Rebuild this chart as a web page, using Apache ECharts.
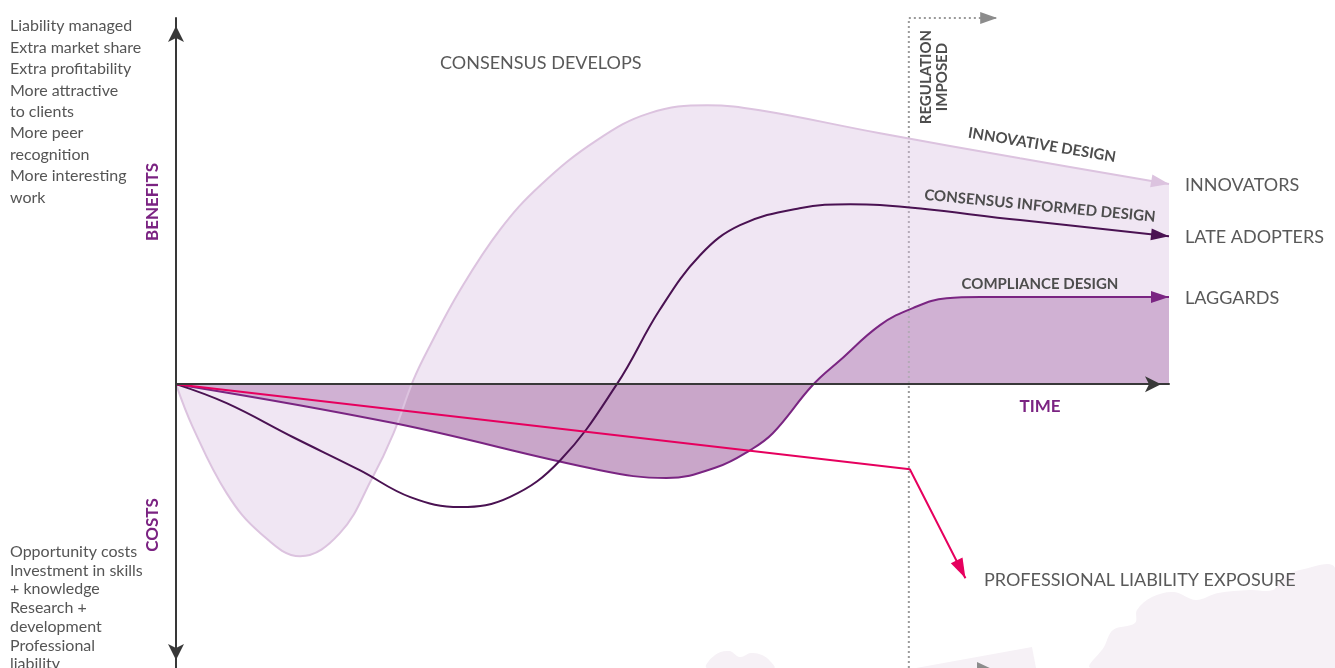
<!DOCTYPE html>
<html>
<head>
<meta charset="utf-8">
<script src="https://cdn.jsdelivr.net/npm/echarts@6/dist/echarts.min.js"></script>
<style>
  html, body { margin: 0; padding: 0; background: #fff; }
  #chart { width: 1335px; height: 668px; }
</style>
</head>
<body>
<div id="chart"></div>
<script>
// time runs 0..100, benefits (+) / costs (-) in arbitrary units
const innovators = [[0,0],[1.7,-15.2],[5.1,-38.4],[8.5,-52.5],[12.5,-60.6],[16.5,-52.5],[19.8,-32.8],[21.9,-17.3],[23.9,1.4],[25.6,13.7],[28.6,33.1],[32.6,54.3],[36.7,70.1],[42.4,86.0],[47.7,95.5],[53.5,98.3],[58.8,96.5],[70.9,88.4],[85,79.6],[100,70.5]];
const lateAdopters = [[0,0],[5.1,-6.7],[11.8,-18.7],[18.5,-30.3],[23.6,-39.8],[28.6,-43.3],[33.6,-39.8],[38.7,-26.8],[44.4,0],[48.7,26.1],[52.8,45.5],[56.8,56.0],[62.8,62.0],[67.9,63.4],[70.9,63.1],[85,57.8],[100,52.1]];
const laggards = [[0,0],[21.9,-13.7],[42.7,-30.3],[49.4,-33.1],[54.5,-29.2],[57.8,-23.3],[60.1,-17.3],[64.1,-0.4],[66.9,8.5],[70.9,20.8],[74.2,26.8],[77.6,30.3],[81,30.7],[100,30.7]];
const liability = [[0,0],[73.9,-30.0],[79.5,-68.4]];
const regulation = [[73.8,-100],[73.8,129],[82.7,129]];

const benefitsText = ['Liability managed','Extra market share','Extra profitability','More attractive','to clients','More peer','recognition','More interesting','work'];
const costsText = ['Opportunity costs','Investment in skills','+ knowledge','Research +','development','Professional','liability'];

const FONT = 'Lato, "Open Sans", sans-serif';
const arrowPath = 'path://M0,0L18,6L0,12Z';

function withArrow(points, rotate, color, len, wid) {
  const rad = rotate * Math.PI / 180;
  return points.map(function (p, i) {
    if (i < points.length - 1) return p;
    return {
      value: p,
      symbol: arrowPath,
      symbolSize: [len, wid],
      symbolRotate: rotate,
      symbolOffset: [-len / 2 * Math.cos(rad), len / 2 * Math.sin(rad)],
      itemStyle: { color: color }
    };
  });
}

function lineSeries(name, data, color, z, extra) {
  return Object.assign({
    name: name,
    type: 'line',
    data: data,
    smooth: 0.4,
    symbol: 'none',
    showSymbol: true,
    silent: true,
    clip: false,
    z: z,
    lineStyle: { color: color, width: 2 }
  }, extra || {});
}

function txt(text, x, y, opts) {
  return {
    type: 'text', x: x, y: y, z: 100, silent: true,
    rotation: opts.rotation || 0,
    style: Object.assign({
      text: text, font: '18px ' + FONT, fill: '#595959',
      textAlign: 'left', textVerticalAlign: 'middle'
    }, opts.style || {})
  };
}

const chart = echarts.init(document.getElementById('chart'));
const option = {
  animation: false,
  backgroundColor: '#fff',
  grid: { left: 176, right: 166, top: 18, bottom: 0 },
  xAxis: {
    type: 'value', min: 0, max: 100, z: 10,
    axisLine: { show: true, onZero: true, lineStyle: { color: '#383838', width: 2 },
      symbol: ['none', 'arrow'], symbolSize: [12, 16], symbolOffset: [0, -8] },
    axisTick: { show: false }, axisLabel: { show: false }, splitLine: { show: false }
  },
  yAxis: {
    type: 'value', min: -100, max: 129, z: 10,
    axisLine: { show: true, onZero: true, lineStyle: { color: '#383838', width: 2 },
      symbol: ['arrow', 'arrow'], symbolSize: [12, 16], symbolOffset: [8, -8] },
    axisTick: { show: false }, axisLabel: { show: false }, splitLine: { show: false }
  },
  series: [
    lineSeries('laggardsArea', laggards, 'rgba(0,0,0,0)', 1, {
      lineStyle: { width: 0 }, areaStyle: { color: '#c9a6c9', opacity: 1 }
    }),
    lineSeries('innovators', withArrow(innovators, -10, '#dcc3df', 18, 13), '#dcc3df', 2, {
      areaStyle: { color: '#dac2e2', opacity: 0.41 }
    }),
    lineSeries('laggards', withArrow(laggards, 0, '#7a2582', 18, 12), '#7a2582', 3),
    lineSeries('lateAdopters', withArrow(lateAdopters, -6, '#4a1252', 18, 12), '#4a1252', 3),
    lineSeries('liability', withArrow(liability, -64, '#e6005e', 20, 13), '#e6005e', 4, { smooth: false }),
    lineSeries('regulation', withArrow(regulation, 0, '#8c8c8c', 17, 12), '#9a9a9a', 1, {
      smooth: false, lineStyle: { color: '#9a9a9a', width: 2, type: [2, 3] }
    })
  ],
  graphic: [
    // faint decorations at the bottom
    { type: 'polygon', z: -10, silent: true, shape: { smooth: 0.35, points: [[1091,668],[1104,647],[1113,630],[1135,623],[1137,610],[1152,597],[1174,592],[1196,600],[1218,593],[1250,590],[1273,590],[1282,578],[1300,570],[1335,568],[1335,668]] }, style: { fill: '#f6f1f6' } },
    { type: 'polygon', z: -10, silent: true, shape: { smooth: 0.4, points: [[707,668],[715,655],[729,651],[740,657],[751,653],[762,655],[770,661],[774,668]] }, style: { fill: '#f6f1f6' } },
    { type: 'polygon', z: -10, silent: true, shape: { points: [[916,668],[1032,647],[1036,668]] }, style: { fill: '#f6f1f6' } },
    { type: 'polygon', z: -9, silent: true, shape: { points: [[977,662],[994,670],[977,670]] }, style: { fill: '#8c8c8c' } },

    txt(benefitsText.join('\n'), 10, 15.5, { style: { font: '16px ' + FONT, lineHeight: 21.4, textVerticalAlign: 'top', fill: '#555' } }),
    txt(costsText.join('\n'), 10, 542.5, { style: { font: '16px ' + FONT, lineHeight: 18.7, textVerticalAlign: 'top', fill: '#555' } }),
    txt('BENEFITS', 153, 202, { rotation: Math.PI / 2, style: { font: 'bold 17px ' + FONT, fill: '#7b2382', textAlign: 'center' } }),
    txt('COSTS', 153, 525, { rotation: Math.PI / 2, style: { font: 'bold 17px ' + FONT, fill: '#7b2382', textAlign: 'center' } }),
    txt('TIME', 1040, 407, { style: { font: 'bold 17px ' + FONT, fill: '#7b2382', textAlign: 'center' } }),
    txt('REGULATION\nIMPOSED', 934, 77, { rotation: Math.PI / 2, style: { font: 'bold 15px ' + FONT, fill: '#4d4d4d', textAlign: 'center', lineHeight: 16 } }),
    txt('INNOVATIVE DESIGN', 1042, 145, { rotation: -0.165, style: { font: 'bold 15px ' + FONT, fill: '#4d4d4d', textAlign: 'center' } }),
    txt('CONSENSUS INFORMED DESIGN', 1040, 206, { rotation: -0.096, style: { font: 'bold 15px ' + FONT, fill: '#4d4d4d', textAlign: 'center' } }),
    txt('COMPLIANCE DESIGN', 1040, 284, { style: { font: 'bold 15px ' + FONT, fill: '#4d4d4d', textAlign: 'center' } }),
    txt('INNOVATORS', 1185, 185, {}),
    txt('LATE ADOPTERS', 1185, 237, {}),
    txt('LAGGARDS', 1185, 298, {}),
    txt('PROFESSIONAL LIABILITY EXPOSURE', 984, 580, {}),
    txt('CONSENSUS DEVELOPS', 440, 63, {})
  ]
};
chart.setOption(option);
</script>
</body>
</html>
